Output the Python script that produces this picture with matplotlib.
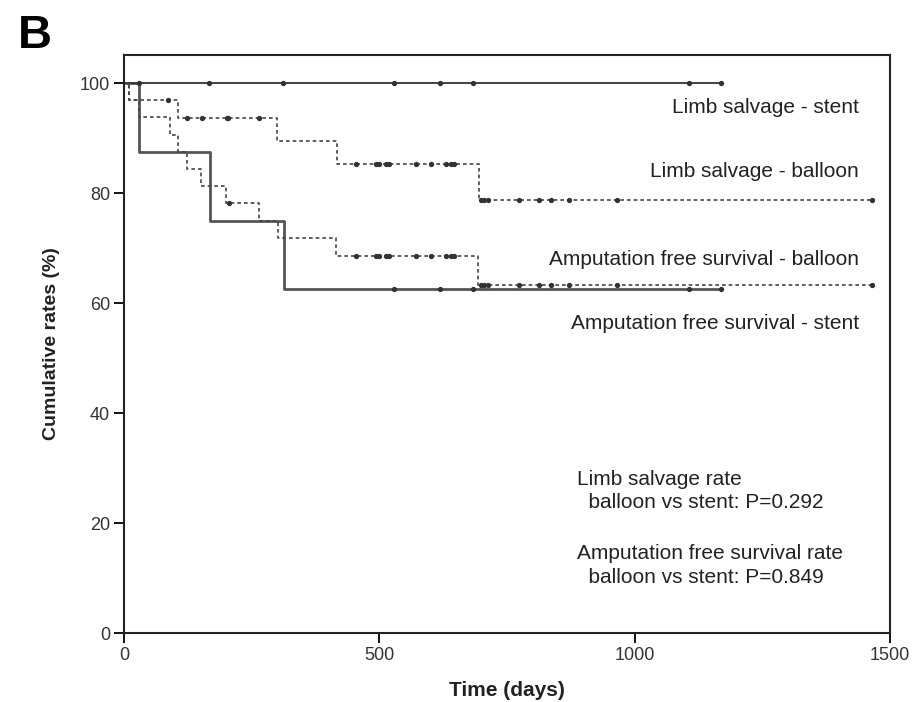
import numpy as np
import matplotlib
matplotlib.use("Agg")
import matplotlib.pyplot as plt

plt.rcParams["font.family"] = ["Liberation Sans", "DejaVu Sans"]

# Kaplan-Meier step data (days, cumulative rate %)
ls_stent_times = [0]
ls_stent_surv = [100.0]
ls_stent_end = 1170
ls_stent_cens = [30, 167, 312, 528, 619, 683, 1107, 1170]

afs_stent_times = [0, 30, 169, 313]
afs_stent_surv = [100.0, 87.5, 75.0, 62.5]
afs_stent_end = 1170
afs_stent_cens = [528, 619, 683, 1107, 1170]

ls_balloon_times = [0, 10, 105, 300, 417, 696]
ls_balloon_surv = [100.0, 96.9, 93.6, 89.4, 85.3, 78.8]
ls_balloon_end = 1465
ls_balloon_cens = [86, 123, 152, 201, 204, 264, 454, 493, 500, 513, 519,
                   572, 601, 631, 640, 647, 700, 705, 712, 774, 813, 836,
                   872, 965, 1465]

afs_balloon_times = [0, 10, 30, 90, 105, 123, 151, 200, 265, 301, 416, 694]
afs_balloon_surv = [100.0, 96.9, 93.8, 90.6, 87.5, 84.4, 81.3, 78.1, 75.0,
                    71.9, 68.6, 63.3]
afs_balloon_end = 1465
afs_balloon_cens = [206, 454, 493, 500, 513, 519, 572, 601, 631, 640, 647,
                    700, 705, 712, 774, 813, 836, 872, 965, 1465]

curve_labels = [
    "Limb salvage - stent",
    "Limb salvage - balloon",
    "Amputation free survival - balloon",
    "Amputation free survival - stent",
]
label_y = [95.5, 84.0, 67.9, 56.3]

p_texts = [
    "Limb salvage rate",
    "  balloon vs stent: P=0.292",
    "Amputation free survival rate",
    "  balloon vs stent: P=0.849",
]
p_y = [28.0, 23.7, 14.4, 10.1]


def draw_km(ax, times, surv, end, cens, **style):
    t = list(times) + [end]
    s = list(surv) + [surv[-1]]
    ax.step(t, s, where="post", **style)
    idx = np.searchsorted(times, cens, side="right") - 1
    cy = np.array(surv)[idx]
    ax.plot(cens, cy, linestyle="none", marker="o",
            markersize=2.8, color="#333333")


fig = plt.figure(figsize=(9.14, 7.02), dpi=100)
ax = fig.add_axes([124 / 914, 1 - 633 / 702, 766 / 914, 578 / 702])

draw_km(ax, afs_stent_times, afs_stent_surv, afs_stent_end, afs_stent_cens,
        color="#555555", linewidth=2.0)
draw_km(ax, ls_stent_times, ls_stent_surv, ls_stent_end, ls_stent_cens,
        color="#333333", linewidth=1.3)
draw_km(ax, afs_balloon_times, afs_balloon_surv, afs_balloon_end,
        afs_balloon_cens, color="#444444", linewidth=1.2,
        linestyle=(0, (2.2, 1.8)))
draw_km(ax, ls_balloon_times, ls_balloon_surv, ls_balloon_end,
        ls_balloon_cens, color="#444444", linewidth=1.2,
        linestyle=(0, (2.2, 1.8)))

for txt, y in zip(curve_labels, label_y):
    ax.text(1439, y, txt, ha="right", va="center",
            fontsize=15, color="#222222")

for txt, y in zip(p_texts, p_y):
    ax.text(887, y, txt, ha="left", va="center",
            fontsize=15, color="#222222")

ax.set_xlim(0, 1500)
ax.set_ylim(0, 105.1)
ax.set_xticks([0, 500, 1000, 1500])
ax.set_yticks([0, 20, 40, 60, 80, 100])
ax.tick_params(direction="out", length=7, width=1.3,
               labelsize=13, labelcolor="#333333", pad=3)

for sp in ax.spines.values():
    sp.set_linewidth(1.5)
    sp.set_color("#222222")

ax.set_xlabel("Time (days)", fontsize=15, fontweight="bold",
              color="#222222", labelpad=12)
ax.set_ylabel("Cumulative rates (%)", fontsize=14, fontweight="bold",
              color="#222222", labelpad=14)

fig.text(18 / 914, 1 - 48 / 702, "B", fontsize=34, fontweight="bold",
         ha="left", va="baseline")

fig.savefig("out.png", dpi=100)
